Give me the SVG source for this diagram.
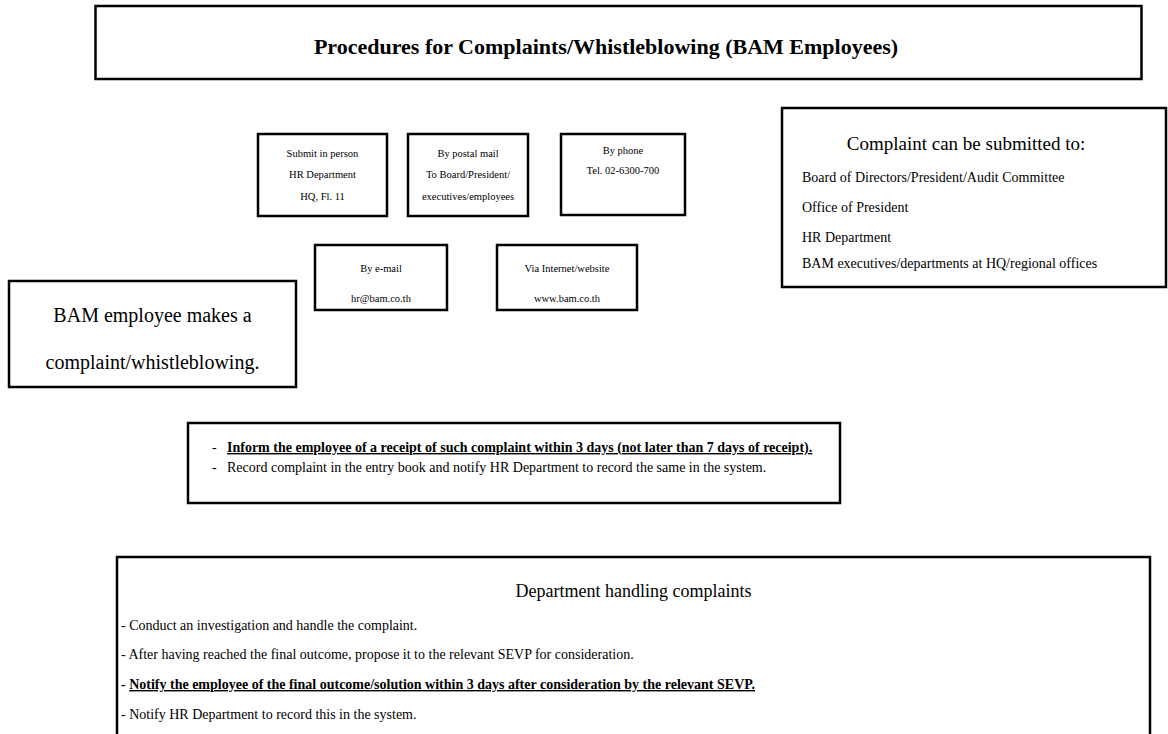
<svg xmlns="http://www.w3.org/2000/svg" width="1168" height="734" viewBox="0 0 1168 734">
<style>
.box{fill:#fff;stroke:#000;stroke-width:2.5}
text{font-family:"Liberation Serif","Times New Roman",serif;fill:#000}
.c{text-anchor:middle}
.s{font-size:10.5px}
.r{font-size:14px}
.b{font-weight:bold}
.u{text-decoration:underline}
.l{font-size:14px}
</style>
<rect width="1168" height="734" fill="#fff"/>
<g id="title">
<rect class="box" x="95.5" y="6" width="1046" height="73"/>
<text class="c b" x="606" y="54" font-size="22">Procedures for Complaints/Whistleblowing (BAM Employees)</text>
</g>
<g id="in-person">
<rect class="box" x="258" y="134" width="129" height="82"/>
<text class="c s" x="322.5" y="156.5">Submit in person</text>
<text class="c s" x="322.5" y="177.5">HR Department</text>
<text class="c s" x="322.5" y="199.5">HQ, Fl.  11</text>
</g>
<g id="postal">
<rect class="box" x="408" y="134" width="120" height="82"/>
<text class="c s" x="468" y="156.5">By postal mail</text>
<text class="c s" x="468" y="177.5">To Board/President/</text>
<text class="c s" x="468" y="199.5">executives/employees</text>
</g>
<g id="phone">
<rect class="box" x="561" y="134" width="124" height="81"/>
<text class="c s" x="623" y="153.5">By phone</text>
<text class="c s" x="623" y="173.5">Tel. 02-6300-700</text>
</g>
<g id="email">
<rect class="box" x="315" y="245" width="132" height="65"/>
<text class="c s" x="381" y="271.5">By e-mail</text>
<text class="c s" x="381" y="301.5">hr@bam.co.th</text>
</g>
<g id="website">
<rect class="box" x="497" y="245" width="140" height="65"/>
<text class="c s" x="567" y="271.5">Via Internet/website</text>
<text class="c s" x="567" y="301.5">www.bam.co.th</text>
</g>
<g id="recipients">
<rect class="box" x="782" y="108" width="384" height="179"/>
<text class="c" x="966" y="150" font-size="19">Complaint can be submitted to:</text>
<text class="r" x="802" y="182">Board of Directors/President/Audit Committee</text>
<text class="r" x="802" y="212">Office of President</text>
<text class="r" x="802" y="242">HR Department</text>
<text class="r" x="802" y="268">BAM executives/departments at HQ/regional offices</text>
</g>
<g id="employee">
<rect class="box" x="9" y="281" width="287" height="106"/>
<text class="c" x="152.5" y="322" font-size="20">BAM employee makes a</text>
<text class="c" x="152.5" y="369" font-size="20">complaint/whistleblowing.</text>
</g>
<g id="receipt">
<rect class="box" x="188" y="423" width="652" height="80"/>
<text x="212" y="452" font-size="14">-</text>
<text class="b u" x="227" y="452" font-size="14">Inform the employee of a receipt of such complaint within 3 days (not later than 7 days of receipt).</text>
<text x="212" y="472" font-size="14">-</text>
<text x="227" y="472" font-size="14">Record complaint in the entry book and notify HR Department to record the same in the system.</text>
</g>
<g id="department">
<rect class="box" x="117" y="557" width="1033" height="200"/>
<text class="c" x="633.5" y="597" font-size="18">Department handling complaints</text>
<text class="l" x="121" y="630">- Conduct an investigation and handle the complaint.</text>
<text class="l" x="121" y="659">- After having reached the final outcome, propose it to the relevant SEVP for consideration.</text>
<text class="l b" x="121" y="689">- <tspan class="u">Notify the employee of the final outcome/solution within 3 days after consideration by the relevant SEVP.</tspan></text>
<text class="l" x="121" y="719">- Notify HR Department to record this in the system.</text>
</g>
<g id="connectors"/>
</svg>
